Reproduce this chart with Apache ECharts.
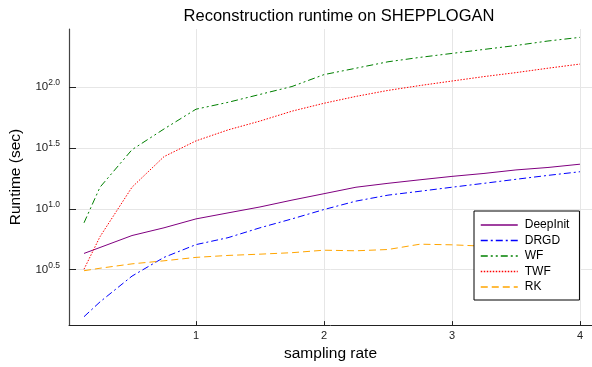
<!DOCTYPE html>
<html>
<head>
<meta charset="utf-8">
<script src="https://cdn.jsdelivr.net/npm/echarts@6/dist/echarts.min.js"></script>
<style>
html,body{margin:0;padding:0;background:#fff;}
#chart{width:592px;height:367px;}
</style>
</head>
<body>
<div id="chart"></div>
<script>
// sampling rates
const samplingRate = [0.125, 0.25, 0.5, 0.75, 1, 1.25, 1.5, 1.75, 2, 2.25, 2.5, 2.75, 3, 3.25, 3.5, 3.75, 4];
// runtimes in seconds
const deepInit = [4.30, 4.81, 6.03, 6.98, 8.26, 9.25, 10.35, 11.78, 13.30, 15.03, 16.18, 17.30, 18.45, 19.50, 20.84, 21.83, 23.23];
const drgd     = [1.30, 1.72, 2.80, 3.99, 5.08, 5.79, 6.98, 8.26, 9.86, 11.56, 12.94, 13.93, 15.03, 16.18, 17.46, 18.80, 20.14];
const wf       = [7.67, 15.03, 30.55, 45.19, 65.7, 74.8, 86.9, 100.9, 126.3, 142.6, 161.0, 175.0, 188.6, 203.4, 219.1, 238.5, 255.5];
const twf      = [3.19, 5.90, 15.03, 26.8, 36.1, 44.4, 52.5, 63.3, 73.5, 83.7, 93.7, 102.8, 111.9, 121.7, 131.2, 142.6, 154.2];
const rk       = [3.10, 3.25, 3.53, 3.74, 3.99, 4.14, 4.24, 4.36, 4.57, 4.52, 4.63, 5.12, 5.06, 4.93, 4.85, 4.81, 4.81];
// tick labels
const xTicks = [1, 2, 3, 4];
const yTickExponents = [0.5, 1.0, 1.5, 2.0];

const seriesNames = ['DeepInit', 'DRGD', 'WF', 'TWF', 'RK'];
const seriesValues = [deepInit, drgd, wf, twf, rk];
const colors = ['#800080', '#0000ff', '#008000', '#ff0000', '#ffa500'];
const dashes = ['solid', [7, 3, 2, 3], [7, 3, 2, 3, 2, 3], [1.5, 1.5], [7, 4]];

const FONT = '"Liberation Sans", Arial, Helvetica, sans-serif';

const chart = echarts.init(document.getElementById('chart'), null, {renderer: 'canvas'});
chart.setOption({
  animation: false,
  backgroundColor: '#fff',
  textStyle: {fontFamily: FONT},
  title: {
    text: 'Reconstruction runtime on SHEPPLOGAN',
    left: 334, top: 3, textAlign: 'center',
    textStyle: {fontSize: 16.5, fontWeight: 'normal', color: '#000', fontFamily: FONT}
  },
  grid: {left: 69, right: 0, top: 29, bottom: 38, containLabel: false},
  legend: {
    orient: 'vertical',
    left: 474, top: 211,
    padding: [8, 10, 7, 6],
    itemWidth: 37, itemHeight: 10, itemGap: 3.5,
    itemStyle: {opacity: 0},
    lineStyle: {width: 1.5},
    backgroundColor: '#fff', borderColor: '#000', borderWidth: 1, borderRadius: 0,
    textStyle: {fontSize: 12, color: '#000', fontFamily: FONT, padding: [0, 0, 0, 2]},
    data: seriesNames
  },
  xAxis: {
    type: 'value',
    min: 0.0078, max: 4.094,
    name: 'sampling rate', nameLocation: 'middle', nameGap: 16,
    nameTextStyle: {fontSize: 15.5, color: '#000', fontFamily: FONT},
    axisLine: {show: true, onZero: false, lineStyle: {color: '#222', width: 1}},
    axisTick: {show: true, inside: true, length: 4, customValues: xTicks, lineStyle: {color: '#222'}},
    axisLabel: {customValues: xTicks, fontSize: 11, color: '#222', margin: 5, fontFamily: FONT},
    splitLine: {show: true, lineStyle: {color: '#e6e6e6', width: 1}}
  },
  yAxis: {
    type: 'value',
    min: 0.045, max: 2.476,
    name: 'Runtime (sec)', nameLocation: 'middle', nameGap: 45,
    nameTextStyle: {fontSize: 15.5, color: '#000', fontFamily: FONT},
    axisLine: {show: true, onZero: false, lineStyle: {color: '#444', width: 1.2}},
    axisTick: {show: true, inside: true, length: 7, customValues: yTickExponents, lineStyle: {color: '#222'}},
    axisLabel: {
      customValues: yTickExponents,
      margin: 9,
      formatter: v => '{b|10}{s|' + v.toFixed(1) + '}',
      rich: {
        b: {fontSize: 11.5, color: '#222', fontFamily: FONT},
        s: {fontSize: 8.5, color: '#222', fontFamily: FONT, padding: [0, 0, 8, 0]}
      }
    },
    splitLine: {show: true, lineStyle: {color: '#e6e6e6', width: 1}}
  },
  series: seriesNames.map((name, i) => ({
    name: name,
    type: 'line',
    symbol: 'none',
    color: colors[i],
    lineStyle: {color: colors[i], width: 1, type: dashes[i]},
    data: samplingRate.map((x, j) => [x, Math.log10(seriesValues[i][j])])
  }))
});
</script>
</body>
</html>
